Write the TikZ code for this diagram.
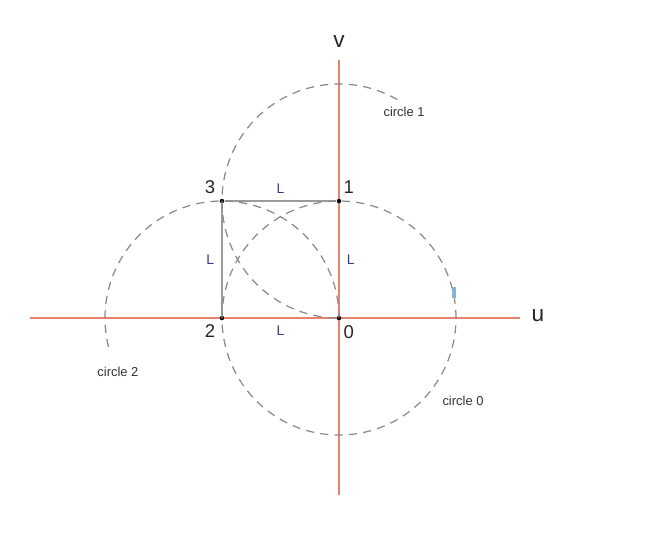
\documentclass[tikz,border=0pt]{standalone}
\usepackage{fontspec}
\setmainfont{Liberation Sans}
\setsansfont{Liberation Sans}
\usetikzlibrary{positioning}
\definecolor{caxis}{HTML}{E8826C}
\definecolor{ccirc}{HTML}{8A8A8A}
\definecolor{cside}{HTML}{9A9A9A}
\definecolor{clen}{HTML}{3A3A8A}
\definecolor{cmark}{HTML}{86B4D8}
\tikzset{
  every picture/.style={font=\sffamily, line width=0.6pt},
  axis/.style={draw=caxis, line width=0.7pt},
  circ/.style={draw=ccirc, dash pattern=on 4pt off 3pt, line width=0.6pt},
  side/.style={draw=cside, line width=0.7pt},
  pt/.style={circle, fill=black, inner sep=0pt, minimum size=2.2pt},
  ptlabel/.style={font=\fontsize{9}{10}\selectfont, text=black!85, inner sep=1pt},
  len/.style={font=\fontsize{6.8}{8}\selectfont, text=clen, inner sep=1pt},
  circlabel/.style={font=\fontsize{6.3}{7}\selectfont, text=black!80},
  axlabel/.style={font=\fontsize{11}{12}\selectfont, text=black!85},
}

\begin{document}
\begin{tikzpicture}[x=2cm, y=2cm, node distance=1.5pt]
  \useasboundingbox (-2.897,-1.932) rectangle (2.769,2.718);
  % axes
  \coordinate (uL) at (-2.641,0);
  \coordinate (uR) at (1.547,0);
  \coordinate (vB) at (0,-1.513);
  \coordinate (vT) at (0,2.205);
  \draw[axis] (uL) -- (uR);
  \draw[axis] (vB) -- (vT);
  \node[axlabel] (u) at (1.70,0.02) {u};
  \node[axlabel] (v) at (0,2.36) {v};
  % corners of the square
  \node[pt] (p0) at (0,0) {};
  \node[pt] (p1) at (0,1) {};
  \node[pt] (p2) at (-1,0) {};
  \node[pt] (p3) at (-1,1) {};
  \draw[side] (p3) -- (p1);
  \draw[side] (p3) -- (p2);
  % circles
  \draw[circ] (p0.center) circle[radius=1];
  \draw[circ] (p1.center) ++(60:1) arc[start angle=60, end angle=270, radius=1];
  \draw[circ] (p0.center) arc[start angle=0, end angle=197, radius=1];
  \fill[cmark] (0.966,0.171) rectangle (0.998,0.265);
  % labels
  \node[ptlabel, above left=of p3] (l3) {3};
  \node[ptlabel, above right=1.5pt and 0pt of p1] (l1) {1};
  \node[ptlabel, below left=of p2] (l2) {2};
  \node[ptlabel, below right=1.5pt and 0pt of p0] (l0) {0};
  \path (p3) -- (p1) node[len, midway, above=2.5pt] (ltop) {L};
  \path (p3) -- (p2) node[len, midway, left=2.5pt] (lleft) {L};
  \path (p1) -- (p0) node[len, midway, right=2.5pt] (lright) {L};
  \path (p2) -- (p0) node[len, midway, below=2.5pt] (lbot) {L};
  \node[circlabel] (c1) at (0.556,1.761) {circle 1};
  \node[circlabel] (c2) at (-1.889,-0.462) {circle 2};
  \node[circlabel] (c0) at (1.06,-0.709) {circle 0};
\end{tikzpicture}
\end{document}
